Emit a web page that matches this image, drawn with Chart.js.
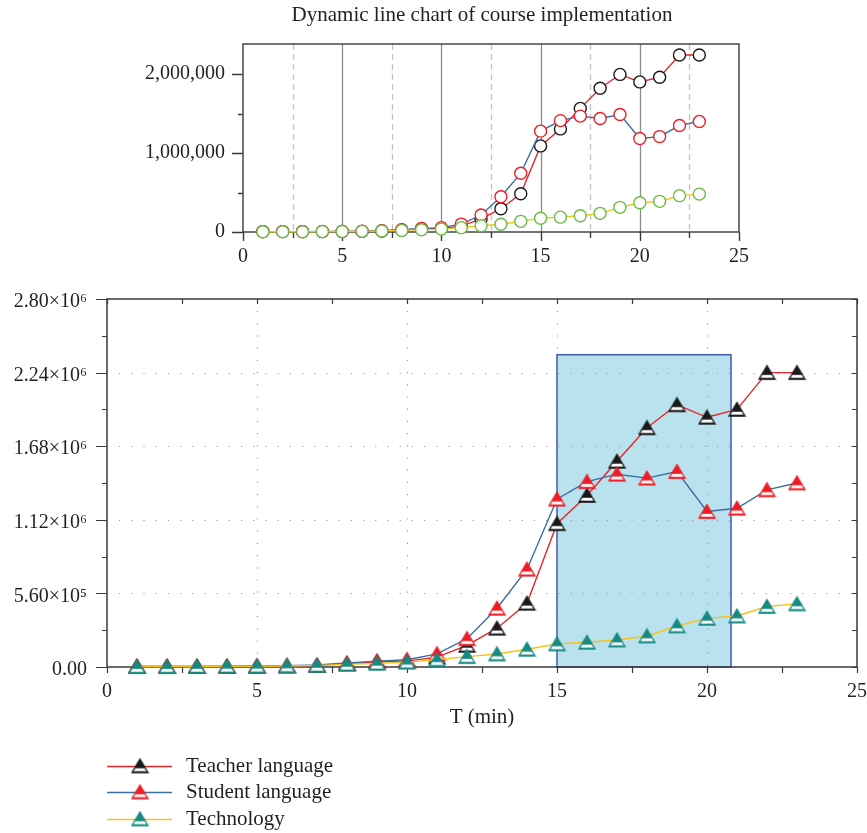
<!DOCTYPE html>
<html>
<head>
<meta charset="utf-8">
<script src="https://cdn.jsdelivr.net/npm/chart.js@4.4.0/dist/chart.umd.min.js"></script>
<style>
  body { margin: 0; background: #fff; }
  #wrap { position: relative; width: 867px; height: 833px; }
  #topChart { position: absolute; left: 0; top: 0; }
  #bottomChart { position: absolute; left: 0; top: 280px; }
</style>
</head>
<body>
<div id="wrap">
  <canvas id="topChart" width="867" height="280"></canvas>
  <canvas id="bottomChart" width="867" height="553"></canvas>
</div>
<script>
// Data (T in minutes)
const minutes = [1, 2, 3, 4, 5, 6, 7, 8, 9, 10, 11, 12, 13, 14, 15, 16, 17, 18, 19, 20, 21, 22, 23];
const teacherLanguage = [5000, 5000, 5000, 5000, 6000, 8000, 12000, 25000, 40000, 45000, 75000, 165000, 295000, 485000, 1090000, 1305000, 1565000, 1820000, 1995000, 1900000, 1960000, 2240000, 2240000];
const studentLanguage = [5000, 5000, 5000, 6000, 8000, 10000, 15000, 30000, 45000, 55000, 100000, 215000, 447000, 744000, 1277000, 1410000, 1467000, 1437000, 1487000, 1183000, 1208000, 1348000, 1400000];
const technology = [3000, 3000, 4000, 5000, 6000, 8000, 12000, 20000, 28000, 37000, 55000, 79000, 99000, 135000, 175000, 188000, 205000, 236000, 312000, 370000, 388000, 460000, 480000];
const seriesNames = ['Teacher language', 'Student language', 'Technology'];

// tick values
const topYTicks = [0, 500000, 1000000, 1500000, 2000000];
const bottomYTicks = [0, 280000, 560000, 840000, 1120000, 1400000, 1680000, 1960000, 2240000, 2520000, 2800000];
const xTicks = [0, 2.5, 5, 7.5, 10, 12.5, 15, 17.5, 20, 22.5, 25];

const topTitle = 'Dynamic line chart of course implementation';
const xTitle = 'T (min)';
const highlightFrom = 15;
const highlightTo = 20.8;
const highlightTop = 2376000;

const FONT = '"Liberation Serif", "DejaVu Serif", serif';
const TEXT = '#231f20';

// line / marker colours
const RED = '#e8262b';
const BLUE = '#3a6ea5';
const YELLOW = '#f9c21a';
const TEAL = '#168a82';
const GREEN = '#6abd45';

function points(values) {
    return minutes.map((m, i) => ({ x: m, y: values[i] }));
}

// Triangle marker: filled top, white band near the base
function makeTriangle(fill, edge) {
    const c = document.createElement('canvas');
    c.width = 19;
    c.height = 17;
    const g = c.getContext('2d');
    const path = () => {
        g.beginPath();
        g.moveTo(9.5, 1.5);
        g.lineTo(17.5, 15.2);
        g.lineTo(1.5, 15.2);
        g.closePath();
    };
    path();
    g.fillStyle = fill;
    g.fill();
    g.save();
    path();
    g.clip();
    g.fillStyle = '#fff';
    g.fillRect(0, 10.8, 19, 2.9);
    g.restore();
    path();
    g.lineWidth = 1.3;
    g.strokeStyle = edge;
    g.stroke();
    return c;
}

const triTeacher = makeTriangle('#1a1a1a', '#1a1a1a');
const triStudent = makeTriangle('#ee1c25', '#ee1c25');
const triTech = makeTriangle(TEAL, TEAL);

function sciLabel(v) {
    if (v === 0) return '0.00';
    const exp = Math.floor(Math.log10(v) + 1e-9);
    const sup = { 5: '\u2075', 6: '\u2076' };
    return (v / Math.pow(10, exp)).toFixed(2) + '\u00d710' + sup[exp];
}

function commaLabel(v) {
    return String(Math.round(v)).replace(/\B(?=(\d{3})+(?!\d))/g, ',');
}

// keep label overhang from moving the plot area
function noPadding(s) {
    s.paddingLeft = 0;
    s.paddingRight = 0;
    s.paddingTop = 0;
    s.paddingBottom = 0;
}

function setTicks(values) {
    return s => { s.ticks = values.map(v => ({ value: v })); };
}

// ---------- Top chart ----------
const topDecor = {
    id: 'topDecor',
    beforeDatasetsDraw(chart) {
        const { ctx, chartArea: a, scales: { x, y } } = chart;
        ctx.save();
        // vertical grid: solid every 5, dashed in between
        xTicks.slice(1, -1).forEach(v => {
            const px = Math.round(x.getPixelForValue(v)) + 0.5;
            ctx.beginPath();
            if (v % 5 === 0) {
                ctx.setLineDash([]);
                ctx.strokeStyle = '#8c8c8c';
            } else {
                ctx.setLineDash([6, 4]);
                ctx.strokeStyle = '#c4c4c4';
            }
            ctx.lineWidth = 1.3;
            ctx.moveTo(px, a.top);
            ctx.lineTo(px, a.bottom);
            ctx.stroke();
        });
        ctx.setLineDash([]);
        // frame
        ctx.strokeStyle = '#3a3a3a';
        ctx.lineWidth = 1.4;
        ctx.strokeRect(a.left, a.top, a.right - a.left, a.bottom - a.top);
        // tick marks (outside)
        ctx.beginPath();
        topYTicks.forEach(v => {
            const py = Math.round(y.getPixelForValue(v)) + 0.5;
            ctx.moveTo(a.left - (v % 1000000 === 0 ? 11 : 5), py);
            ctx.lineTo(a.left, py);
        });
        xTicks.forEach(v => {
            const px = Math.round(x.getPixelForValue(v)) + 0.5;
            ctx.moveTo(px, a.bottom);
            ctx.lineTo(px, a.bottom + (v % 5 === 0 ? 9 : 6));
        });
        ctx.stroke();
        // title
        ctx.fillStyle = TEXT;
        ctx.font = '21px ' + FONT;
        ctx.textAlign = 'center';
        ctx.textBaseline = 'middle';
        ctx.fillText(topTitle, 482, 15);
        ctx.restore();
    }
};

const circleOpts = {
    pointStyle: 'circle',
    pointRadius: 6,
    pointBorderWidth: 1.4,
    pointBackgroundColor: '#fff',
    borderWidth: 1.4,
    clip: false
};

new Chart(document.getElementById('topChart'), {
    type: 'line',
    data: {
        datasets: [
            Object.assign({ label: seriesNames[2], data: points(technology), borderColor: YELLOW, pointBorderColor: GREEN, order: 0 }, circleOpts),
            Object.assign({ label: seriesNames[1], data: points(studentLanguage), borderColor: BLUE, pointBorderColor: '#ee1c25', order: 1 }, circleOpts),
            Object.assign({ label: seriesNames[0], data: points(teacherLanguage), borderColor: RED, pointBorderColor: '#1a1a1a', order: 2 }, circleOpts)
        ]
    },
    options: {
        responsive: false,
        animation: false,
        layout: { padding: { left: 0, right: 128, top: 44, bottom: 8 } },
        scales: {
            x: {
                type: 'linear', min: 0, max: 25,
                grid: { display: false, drawTicks: false },
                border: { display: false },
                afterBuildTicks: setTicks(xTicks),
                ticks: {
                    autoSkip: false, maxRotation: 0, padding: 13,
                    color: TEXT, font: { family: FONT, size: 20 },
                    callback: v => (v % 5 === 0 ? String(v) : '')
                },
                afterFit: s => { s.height = 40; noPadding(s); }
            },
            y: {
                min: 0, max: 2380000,
                grid: { display: false, drawTicks: false },
                border: { display: false },
                afterBuildTicks: setTicks(topYTicks),
                ticks: {
                    padding: 18, autoSkip: false,
                    color: TEXT, font: { family: FONT, size: 20 },
                    callback: v => (v % 1000000 === 0 ? commaLabel(v) : '')
                },
                afterFit: s => { s.width = 243; noPadding(s); }
            }
        },
        plugins: { legend: { display: false }, tooltip: { enabled: false } }
    },
    plugins: [topDecor]
});

// ---------- Bottom chart ----------
const bottomDecor = {
    id: 'bottomDecor',
    beforeDatasetsDraw(chart) {
        const { ctx, chartArea: a, scales: { x, y } } = chart;
        ctx.save();
        // highlighted interval
        const rx = x.getPixelForValue(highlightFrom);
        const rw = x.getPixelForValue(highlightTo) - rx;
        const ry = y.getPixelForValue(highlightTop);
        const rh = y.getPixelForValue(0) - ry;
        ctx.fillStyle = '#b9e2ee';
        ctx.fillRect(rx, ry, rw, rh);
        ctx.strokeStyle = '#4a62ad';
        ctx.lineWidth = 1.6;
        ctx.strokeRect(rx, ry, rw, rh);
        // dotted grid
        ctx.strokeStyle = '#9a9a9a';
        ctx.lineWidth = 1.2;
        ctx.setLineDash([1.2, 11]);
        ctx.beginPath();
        bottomYTicks.forEach(v => {
            if (v === 0 || v === 2800000 || v % 560000 !== 0) return;
            const py = Math.round(y.getPixelForValue(v)) + 0.5;
            ctx.moveTo(a.left + 12, py);
            ctx.lineTo(a.right, py);
        });
        xTicks.forEach(v => {
            if (v === 0 || v === 25 || v % 5 !== 0) return;
            const px = Math.round(x.getPixelForValue(v)) + 0.5;
            ctx.moveTo(px, a.top + 12);
            ctx.lineTo(px, a.bottom);
        });
        ctx.stroke();
        ctx.setLineDash([]);
        // frame
        ctx.strokeStyle = '#3a3a3a';
        ctx.lineWidth = 1.5;
        ctx.strokeRect(a.left, a.top, a.right - a.left, a.bottom - a.top);
        // tick marks: left/bottom outside, top/right inside
        ctx.lineWidth = 1.2;
        ctx.beginPath();
        bottomYTicks.forEach(v => {
            const py = Math.round(y.getPixelForValue(v)) + 0.5;
            ctx.moveTo(a.left - (v % 560000 === 0 ? 11 : 5), py);
            ctx.lineTo(a.left, py);
            ctx.moveTo(a.right, py);
            ctx.lineTo(a.right - 5, py);
        });
        xTicks.forEach(v => {
            const px = Math.round(x.getPixelForValue(v)) + 0.5;
            ctx.moveTo(px, a.top);
            ctx.lineTo(px, a.top + 5);
            ctx.moveTo(px, a.bottom);
            ctx.lineTo(px, a.bottom + 6);
        });
        ctx.stroke();
        ctx.restore();
    },
    afterDraw(chart) {
        // legend: line + marker + name
        const { ctx } = chart;
        const rows = [
            { ds: chart.data.datasets[2], y: 486 },
            { ds: chart.data.datasets[1], y: 512 },
            { ds: chart.data.datasets[0], y: 539 }
        ];
        ctx.save();
        ctx.font = '21px ' + FONT;
        ctx.fillStyle = TEXT;
        ctx.textAlign = 'left';
        ctx.textBaseline = 'middle';
        rows.forEach(r => {
            ctx.strokeStyle = r.ds.borderColor;
            ctx.lineWidth = 1.5;
            ctx.beginPath();
            ctx.moveTo(107, r.y + 0.5);
            ctx.lineTo(172, r.y + 0.5);
            ctx.stroke();
            const img = r.ds.pointStyle;
            ctx.drawImage(img, 140 - img.width / 2, r.y - img.height / 2);
            ctx.fillText(r.ds.label, 186, r.y);
        });
        ctx.restore();
    }
};

const triOpts = { pointRadius: 7, borderWidth: 1.4, clip: false };

new Chart(document.getElementById('bottomChart'), {
    type: 'line',
    data: {
        datasets: [
            Object.assign({ label: seriesNames[2], data: points(technology), borderColor: YELLOW, pointStyle: triTech, order: 0 }, triOpts),
            Object.assign({ label: seriesNames[1], data: points(studentLanguage), borderColor: BLUE, pointStyle: triStudent, order: 1 }, triOpts),
            Object.assign({ label: seriesNames[0], data: points(teacherLanguage), borderColor: RED, pointStyle: triTeacher, order: 2 }, triOpts)
        ]
    },
    options: {
        responsive: false,
        animation: false,
        layout: { padding: { left: 0, right: 10, top: 19, bottom: 103 } },
        scales: {
            x: {
                type: 'linear', min: 0, max: 25,
                grid: { display: false, drawTicks: false },
                border: { display: false },
                afterBuildTicks: setTicks(xTicks),
                ticks: {
                    autoSkip: false, maxRotation: 0, padding: 13,
                    color: TEXT, font: { family: FONT, size: 20 },
                    callback: v => (v % 5 === 0 ? String(v) : '')
                },
                title: {
                    display: true, text: xTitle, color: TEXT,
                    font: { family: FONT, size: 21 }, padding: 0
                },
                afterFit: s => { s.height = 63; noPadding(s); }
            },
            y: {
                min: 0, max: 2800000,
                grid: { display: false, drawTicks: false },
                border: { display: false },
                afterBuildTicks: setTicks(bottomYTicks),
                ticks: {
                    padding: 20, autoSkip: false, labelOffset: 3,
                    color: TEXT, font: { family: FONT, size: 20 },
                    callback: v => (v % 560000 === 0 ? sciLabel(v) : '')
                },
                afterFit: s => { s.width = 107; noPadding(s); }
            }
        },
        plugins: { legend: { display: false }, tooltip: { enabled: false } }
    },
    plugins: [bottomDecor]
});
</script>
</body>
</html>
